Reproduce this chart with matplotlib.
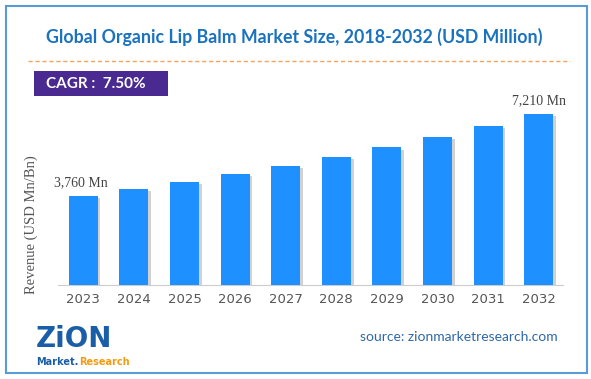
import matplotlib
matplotlib.use("Agg")
import matplotlib.pyplot as plt
from matplotlib.patches import Rectangle
import matplotlib.patheffects as pe
from matplotlib.lines import Line2D

years = ["2023", "2024", "2025", "2026", "2027", "2028", "2029", "2030", "2031", "2032"]
revenue = [3760, 4040, 4350, 4670, 5020, 5400, 5800, 6240, 6710, 7210]
first_label = "3,760 Mn"
last_label = "7,210 Mn"

W, H = 591, 379
fig = plt.figure(figsize=(W / 100, H / 100), dpi=100)
fig.patch.set_facecolor("white")

# outer frame
fig.add_artist(Rectangle((6 / W, 6 / H), (587 - 6) / W, (373 - 6) / H, transform=fig.transFigure,
                         fill=False, edgecolor="#5b9bd5", linewidth=1.5))

# title
fig.text(294 / W, 1 - 37 / H, "Global Organic Lip Balm Market Size, 2018-2032 (USD Million)",
         ha="center", va="center", fontsize=12.8, fontweight="bold", color="#1b72be", family="Lato")

# dashed orange line
fig.add_artist(Line2D([28 / W, 570 / W], [1 - 61 / H, 1 - 61 / H], transform=fig.transFigure,
                      color="#f4a460", linewidth=1, linestyle=(0, (3, 2))))

# CAGR box
fig.add_artist(Rectangle((34 / W, 1 - 96 / H), (168 - 34) / W, 25 / H, transform=fig.transFigure,
                         facecolor="#4a2a91", edgecolor="none"))
fig.text(46 / W, 1 - 84 / H, "CAGR :  7.50%", ha="left", va="center", fontsize=11,
         fontweight="bold", color="white", family="Lato")

ax = fig.add_axes([58 / W, (379 - 285) / H, (563 - 58) / W, (285 - 100) / H])
x = range(len(years))
bars = ax.bar(x, revenue, width=0.57, color="#1e90ff", zorder=3)
for b in bars:
    b.set_path_effects([pe.SimplePatchShadow(offset=(2, -1.5), shadow_rgbFace="#999999", alpha=0.45),
                        pe.Normal()])
ax.set_xlim(-0.5, 9.48)
ax.set_ylim(0, 7800)
ax.set_xticks(list(x))
ax.set_xticklabels(years, fontsize=9.5, color="#555555")
ax.tick_params(axis="x", length=0, pad=6)
ax.set_yticks([])
for s in ["top", "right", "left"]:
    ax.spines[s].set_visible(False)
ax.spines["bottom"].set_color("#cccccc")
ax.set_facecolor("none")

ax.annotate(first_label, (0, revenue[0]), xytext=(-2, 5), textcoords="offset points",
            ha="center", va="bottom", fontsize=10, color="#444444", family="Liberation Serif")
ax.annotate(last_label, (9, revenue[-1]), xytext=(0, 5), textcoords="offset points",
            ha="center", va="bottom", fontsize=10, color="#444444", family="Liberation Serif")

fig.text(31 / W, 1 - 225 / H, "Revenue (USD Mn/Bn)", rotation=90, ha="center", va="center",
         fontsize=10.5, color="#555555", family="Liberation Serif")

# logo
fig.text(36 / W, 1 - 339 / H, "ZiON", ha="left", va="center", fontsize=20, fontweight="bold",
         color="#1a5ea8", family="DejaVu Sans")
t1 = fig.text(36 / W, 1 - 362 / H, "Market.", ha="left", va="center", fontsize=7, fontweight="bold",
              color="#1a5ea8", family="DejaVu Sans")
fig.canvas.draw()
bb = t1.get_window_extent()
fig.text(bb.x1 / W + 1 / W, 1 - 362 / H, "Research", ha="left", va="center", fontsize=7,
         fontweight="bold", color="#f39c12", family="DejaVu Sans")

fig.text(558 / W, 1 - 337 / H, "source: zionmarketresearch.com", ha="right", va="center",
         fontsize=10, color="#2e67a8", family="Lato")

fig.savefig("out.png", dpi=100)
